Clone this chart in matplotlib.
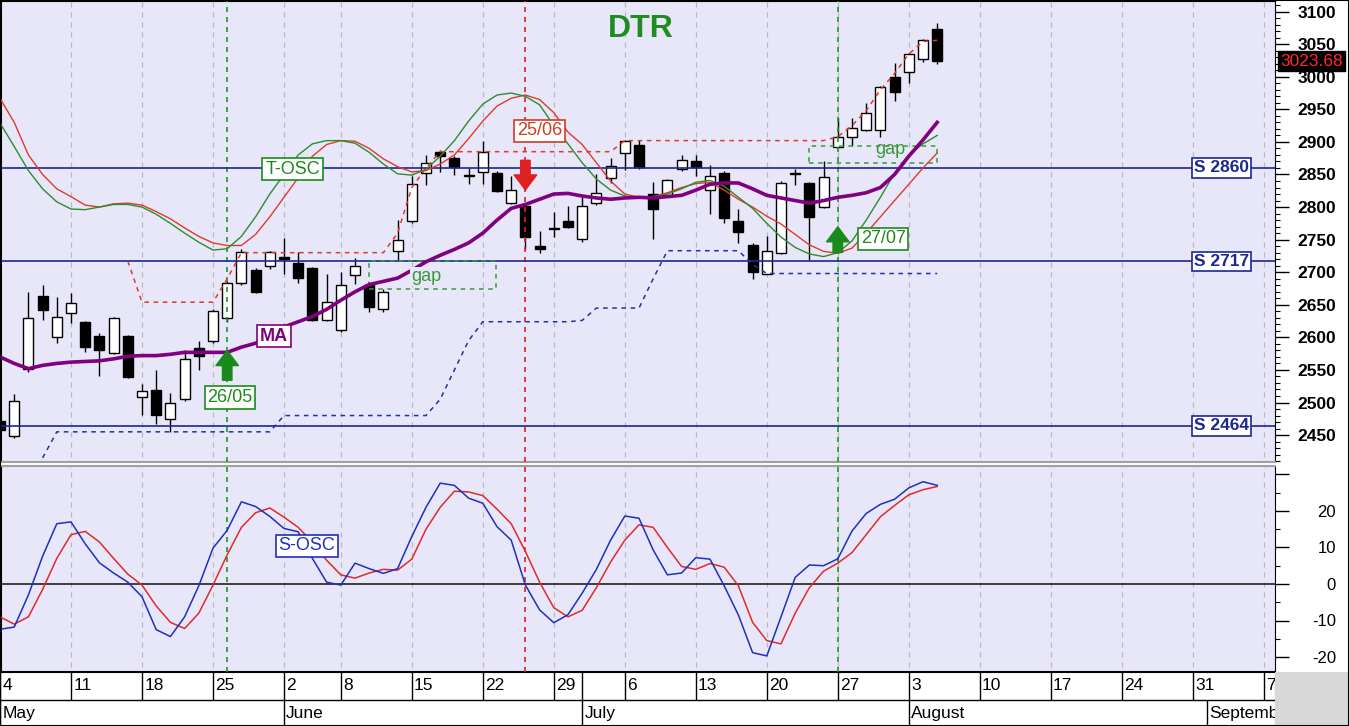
import numpy as np
import matplotlib.pyplot as plt
from matplotlib.patches import Rectangle
from matplotlib.ticker import MultipleLocator, FixedLocator

plt.rcParams['font.family'] = ['Liberation Sans', 'DejaVu Sans']

# daily candles, trading days from 4 May (index 0)
opens = [2472, 2448, 2551, 2663, 2601, 2638, 2623, 2602, 2576, 2602,
         2509, 2519, 2475, 2505, 2583, 2595, 2629, 2683, 2703, 2710,
         2724, 2714, 2706, 2627, 2611, 2696, 2680, 2643, 2732, 2778,
         2852, 2884, 2876, 2849, 2854, 2853, 2807, 2802, 2741, 2768,
         2778, 2751, 2807, 2844, 2883, 2895, 2820, 2819, 2858, 2871,
         2826, 2853, 2779, 2742, 2698, 2730, 2853, 2837, 2800, 2892,
         2908, 2919, 2918, 3000, 3008, 3028, 3074]
closes = [2458, 2503, 2629, 2642, 2632, 2652, 2585, 2581, 2629, 2539,
          2518, 2481, 2500, 2567, 2571, 2641, 2684, 2731, 2670, 2731,
          2721, 2691, 2627, 2655, 2680, 2710, 2647, 2669, 2750, 2835,
          2867, 2878, 2861, 2847, 2885, 2825, 2826, 2754, 2735, 2766,
          2770, 2802, 2822, 2863, 2901, 2861, 2797, 2841, 2872, 2861,
          2848, 2783, 2762, 2701, 2733, 2837, 2851, 2785, 2846, 2908,
          2922, 2945, 2984, 2977, 3035, 3056, 3023.68]
highs = [2478, 2513, 2669, 2680, 2662, 2668, 2625, 2607, 2631, 2604,
         2528, 2550, 2515, 2580, 2595, 2643, 2686, 2735, 2707, 2733,
         2752, 2731, 2708, 2698, 2701, 2722, 2685, 2675, 2780, 2847,
         2880, 2887, 2879, 2860, 2902, 2855, 2847, 2805, 2764, 2793,
         2802, 2815, 2851, 2876, 2903, 2903, 2839, 2843, 2880, 2880,
         2865, 2855, 2797, 2745, 2755, 2840, 2858, 2839, 2870, 2936,
         2936, 2959, 2986, 3021, 3037, 3058, 3083]
lows = [2450, 2446, 2547, 2627, 2592, 2622, 2578, 2541, 2574, 2537,
        2481, 2467, 2455, 2503, 2550, 2592, 2624, 2681, 2668, 2705,
        2698, 2684, 2625, 2625, 2609, 2682, 2639, 2639, 2719, 2776,
        2834, 2854, 2849, 2836, 2836, 2823, 2805, 2735, 2730, 2754,
        2768, 2747, 2803, 2837, 2857, 2858, 2751, 2816, 2856, 2847,
        2789, 2775, 2745, 2689, 2697, 2728, 2834, 2718, 2798, 2890,
        2894, 2917, 2908, 2963, 2990, 3023, 3020]

ma = [2570, 2560, 2552, 2557, 2560, 2562, 2563, 2564, 2567, 2571,
      2572, 2572, 2574, 2577, 2577, 2577, 2577, 2585, 2591, 2603,
      2616, 2624, 2632, 2643, 2657, 2670, 2681, 2686, 2691, 2703,
      2716, 2726, 2735, 2745, 2760, 2780, 2798, 2804, 2812, 2820,
      2821, 2817, 2814, 2812, 2814, 2815, 2814, 2816, 2818, 2826,
      2835, 2837, 2837, 2828, 2818, 2814, 2810, 2806, 2810, 2815,
      2818, 2822, 2830, 2850, 2878, 2903, 2930]

tosc_fast = [2929, 2893, 2856, 2828, 2808, 2797, 2796, 2800, 2804, 2804,
             2800, 2789, 2775, 2760, 2746, 2734, 2736, 2755, 2785, 2820,
             2850, 2880, 2897, 2902, 2902, 2898, 2884, 2866, 2851, 2849,
             2858, 2878, 2902, 2932, 2958, 2972, 2975, 2970, 2957, 2925,
             2897, 2868, 2843, 2826, 2817, 2815, 2816, 2820, 2828, 2838,
             2841, 2832, 2815, 2798, 2775, 2754, 2738, 2728, 2724, 2730,
             2748, 2780, 2815, 2852, 2880, 2897, 2910]
tosc_slow = [2967, 2930, 2880, 2850, 2828, 2816, 2803, 2800, 2805, 2806,
             2803, 2793, 2782, 2768, 2755, 2745, 2741, 2741, 2758, 2785,
             2815, 2845, 2878, 2896, 2902, 2901, 2890, 2874, 2862, 2854,
             2856, 2866, 2880, 2905, 2932, 2955, 2967, 2972, 2965, 2945,
             2915, 2896, 2868, 2840, 2820, 2815, 2816, 2822, 2830, 2836,
             2838, 2826, 2812, 2800, 2786, 2774, 2758, 2742, 2732, 2729,
             2737, 2760, 2785, 2810, 2835, 2860, 2883]

N = None
stop_hi = [N, N, N, N, N, N, N, N, N, 2717,
           2654, 2654, 2654, 2654, 2654, 2654, 2690, 2730, 2730, 2730,
           2730, 2730, 2730, 2730, 2730, 2730, 2730, 2730, 2760, 2830,
           2860, 2885, 2885, 2885, 2885, 2885, 2885, 2885, 2885, 2885,
           2885, 2885, 2885, 2885, 2902, 2902, 2902, 2902, 2902, 2902,
           2902, 2902, 2902, 2902, 2902, 2902, 2902, 2902, 2902, 2908,
           2925, 2948, 2980, 3005, 3035, 3054, 3056]
stop_lo = [N, N, N, 2415, 2455, 2455, 2455, 2455, 2455, 2455,
           2455, 2455, 2455, 2455, 2455, 2455, 2455, 2455, 2455, 2455,
           2480, 2480, 2480, 2480, 2480, 2480, 2480, 2480, 2480, 2480,
           2480, 2505, 2550, 2595, 2624, 2624, 2624, 2624, 2624, 2624,
           2624, 2626, 2645, 2645, 2645, 2645, 2690, 2733, 2733, 2733,
           2733, 2733, 2733, 2712, 2698, 2698, 2698, 2698, 2698, 2698,
           2698, 2698, 2698, 2698, 2698, 2698, 2698]

sosc = [-12.4, -11.8, -3.0, 7.6, 16.5, 17.0, 11.0, 5.8, 3.0, 0.5,
        -3.5, -12.5, -14.4, -9.0, -0.5, 9.8, 14.7, 22.5, 21.2, 18.5,
        15.2, 14.3, 7.0, 0.5, -0.3, 5.7, 4.2, 2.9, 4.2, 13.0,
        21.0, 27.6, 27.0, 23.5, 22.1, 15.7, 12.0, -0.3, -7.1, -10.6,
        -8.4, -2.5, 4.0, 12.0, 18.6, 18.0, 9.3, 2.5, 3.0, 7.2,
        6.8, -0.5, -8.5, -18.8, -19.7, -9.0, 1.8, 5.2, 5.0, 6.9,
        14.5, 19.3, 21.8, 23.2, 26.3, 28.0, 27.0]
sosc_sig = [-9.0, -11.0, -9.0, -1.5, 7.0, 13.5, 14.4, 11.5, 7.0, 2.7,
            -0.3, -6.0, -10.5, -12.2, -8.0, -0.3, 8.0, 15.5, 19.5, 20.8,
            18.3, 15.5, 11.5, 6.5, 2.5, 1.6, 3.0, 4.0, 3.8, 6.8,
            15.0, 21.0, 25.4, 25.2, 24.2, 20.5, 16.5, 8.9, 0.5, -6.5,
            -9.0, -7.2, -1.0, 6.0, 12.0, 16.2, 15.5, 10.0, 4.8, 4.0,
            5.6, 4.6, -0.5, -10.5, -15.5, -16.4, -8.0, -1.0, 3.5, 5.7,
            8.6, 13.5, 18.4, 21.5, 24.4, 25.8, 26.7]

supports = [2860, 2717, 2464]
gaps = [(26, 34.9, 2674, 2717), (57, 66, 2868, 2894)]  # day from, day to, low, high
signal_days = [16, 37, 59]
signal_text = ['26/05', '25/06', '27/07']

week_days = [0, 5, 10, 15, 20, 24, 29, 34, 39, 44, 49, 54, 59, 64, 69, 74, 79, 84, 89]
week_labels = ['4', '11', '18', '25', '2', '8', '15', '22', '29', '6', '13', '20',
               '27', '3', '10', '17', '24', '31', '7']
month_days = [0, 20, 41, 64, 85]
month_labels = ['May', 'June', 'July', 'August', 'September']

W, H = 1349, 726
fig = plt.figure(figsize=(W / 100, H / 100), dpi=100)
fig.patch.set_facecolor('white')

pr = 1275  # right edge of plotting area, px
ax = fig.add_axes([1 / W, 1 - 462 / H, (pr - 1) / W, 461 / H])
ax2 = fig.add_axes([1 / W, 1 - 672 / H, (pr - 1) / W, 206 / H])
axd = fig.add_axes([0, 0, pr / W, 54 / H])

bg = '#e7e7f9'
x0, x1 = 0.07, 89.79
x = np.arange(len(closes))

for a in (ax, ax2):
    a.set_facecolor(bg)
    a.set_xlim(x0, x1)
    a.set_xticks([])
    a.vlines(week_days[1:], -1e4, 1e4, color='#b8b8b8', lw=0.9,
             linestyles=(0, (4, 4)), zorder=0.5)
    for d, c in zip(signal_days, ['#1a9a1a', '#e02020', '#1a9a1a']):
        a.axvline(d, color=c, lw=1.2, ls=(0, (3, 3)), zorder=4)
    a.yaxis.tick_right()
    for s in ('left', 'top', 'right'):
        a.spines[s].set_color('black')
    a.spines['bottom'].set_color('#a0a0a0')
    a.spines['bottom'].set_linewidth(1.5)

ax.set_ylim(2408.7, 3116.3)
ax2.set_ylim(-24.1, 32.3)
ax2.spines['top'].set_color('#a0a0a0')
ax2.spines['top'].set_linewidth(1.5)
ax2.spines['bottom'].set_color('black')

# candles
o = np.array(opens)
c = np.array(closes)
ax.vlines(x, lows, highs, color='black', lw=1, zorder=2)
bottom = np.minimum(o, c)
height = np.maximum(np.abs(c - o), 1.5)
fill = np.where(c >= o, 'white', 'black')
ax.bar(x, height, bottom=bottom, width=0.7, color=fill, edgecolor='black',
       lw=1, zorder=3)

# support lines
navy = '#1c2890'
for s in supports:
    ax.axhline(s, color=navy, lw=1.2, zorder=4)
    ax.text(86, s, 'S %d' % s, color=navy, fontsize=12.5, fontweight='bold',
            ha='center', va='center', zorder=7,
            bbox=dict(boxstyle='square,pad=0.12', fc='white', ec=navy, lw=1.2))

# trend oscillator and MA
ax.plot(x, tosc_slow, color='#e03a2a', lw=1, zorder=4)
ax.plot(x, tosc_fast, color='#2c8c2c', lw=1, zorder=4)

hi = np.array([np.nan if v is None else v for v in stop_hi], float)
lo = np.array([np.nan if v is None else v for v in stop_lo], float)
ax.plot(x, hi, color='#e03a2a', lw=1.1, ls=(0, (3, 3)), zorder=4)
ax.plot(x, lo, color='#2030a8', lw=1.1, ls=(0, (3, 3)), zorder=4)

for g0, g1, gl, gh in gaps:
    ax.add_patch(Rectangle((g0, gl), g1 - g0, gh - gl, fill=False,
                           ec='#3a9a3a', lw=1.1, ls=(0, (3, 3)), zorder=4))

ax.plot(x, ma, color='#800080', lw=2.6, zorder=5)

ax.text(30.0, 2694, 'gap', color='#3a9a3a', fontsize=13, ha='center',
        va='center', zorder=6,
        bbox=dict(boxstyle='square,pad=0.05', fc=bg, ec='none'))
ax.text(62.7, 2888, 'gap', color='#3a9a3a', fontsize=13, ha='center',
        va='center', zorder=6)

# signals
green = '#1a8a1a'
red = '#e02020'
akw = dict(arrowstyle='simple,head_width=0.9,head_length=0.6,tail_width=0.38',
           mutation_scale=18)
ax.annotate('', xy=(signal_days[0], 2584), xytext=(signal_days[0], 2530),
            arrowprops=dict(color=green, **akw), zorder=6)
ax.annotate('', xy=(signal_days[1], 2822), xytext=(signal_days[1], 2876),
            arrowprops=dict(color=red, **akw), zorder=6)
ax.annotate('', xy=(signal_days[2], 2774), xytext=(signal_days[2], 2726),
            arrowprops=dict(color=green, **akw), zorder=6)

lab = dict(fontsize=13, ha='center', va='center', zorder=7)
ax.text(16.2, 2508, signal_text[0], color=green,
        bbox=dict(boxstyle='square,pad=0.15', fc='white', ec=green, lw=1.2), **lab)
ax.text(38.0, 2917, signal_text[1], color='#d23a20',
        bbox=dict(boxstyle='square,pad=0.15', fc='white', ec='#d23a20', lw=1.2), **lab)
ax.text(62.2, 2751, signal_text[2], color=green,
        bbox=dict(boxstyle='square,pad=0.15', fc='white', ec=green, lw=1.2), **lab)
ax.text(20.6, 2858, 'T-OSC', color=green,
        bbox=dict(boxstyle='square,pad=0.15', fc='white', ec=green, lw=1.2), **lab)
ax.text(19.3, 2602, 'MA', color='#800080', fontweight='bold',
        bbox=dict(boxstyle='square,pad=0.15', fc='white', ec='#800080', lw=1.2), **lab)

ax.text(45.1, 3073, 'DTR', color='#1e8c1e', fontsize=23, fontweight='bold',
        ha='center', va='center', zorder=7)

# price axis
ax.yaxis.set_major_locator(FixedLocator(range(2450, 3101, 50)))
ax.yaxis.set_minor_locator(MultipleLocator(10))
ax.tick_params(axis='y', which='major', length=10, width=1, pad=6,
               labelsize=12.5, direction='out')
ax.tick_params(axis='y', which='minor', length=3.6, width=0.8, direction='out')
for t in ax.get_yticklabels():
    t.set_fontweight('bold')

# S-OSC panel
ax2.axhline(0, color='#202020', lw=1.2, zorder=2)
ax2.plot(x, sosc_sig, color='#e02a2a', lw=1.1, zorder=4)
ax2.plot(x, sosc, color='#1f2fbf', lw=1.1, zorder=4)
ax2.text(21.6, 10.4, 'S-OSC', color='#1f2fbf', fontsize=13, ha='center',
         va='center', zorder=7,
         bbox=dict(boxstyle='square,pad=0.15', fc='white', ec='#1f2fbf', lw=1.2))
ax2.yaxis.set_major_locator(FixedLocator([-20, -10, 0, 10, 20, 30]))
ax2.yaxis.set_minor_locator(MultipleLocator(5))
ax2.set_yticklabels(['-20', '-10', '0', '10', '20', ''])
ax2.tick_params(axis='y', which='major', length=10, width=1, pad=34,
                labelsize=12, direction='out')
ax2.tick_params(axis='y', which='minor', length=3.6, width=0.8, direction='out')
for t in ax2.get_yticklabels():
    t.set_ha('right')

# date strip
axd.set_xlim(0, x1)
axd.set_ylim(0, 54)
axd.set_facecolor('white')
axd.set_xticks([])
axd.set_yticks([])
for s in axd.spines.values():
    s.set_color('black')
axd.axhline(26, color='black', lw=1)
axd.vlines(week_days + [41], 26, 54, color='black', lw=1)
axd.vlines(month_days, 0, 26, color='black', lw=1)
for d, t in zip(week_days, week_labels):
    axd.text(d + 0.15, 40, t, fontsize=12.5, ha='left', va='center', clip_on=True)
for d, t in zip(month_days, month_labels):
    axd.text(d + 0.15, 12.5, t, fontsize=12.5, ha='left', va='center', clip_on=True)

fig.patches.append(Rectangle((pr / W, 0), 1 - pr / W, 54 / H, transform=fig.transFigure,
                             fc='#d8d8d8', ec='none', zorder=0))

fig.text(1280 / W, 1 - 61 / H, '%.2f' % closes[-1], color='#ff2a2a', fontsize=12.5,
         ha='left', va='center',
         bbox=dict(boxstyle='square,pad=0.12', fc='black', ec='black'))

fig.patches.append(Rectangle((0, 0), 1, 1, transform=fig.transFigure, fill=False,
                             ec='black', lw=1.5, zorder=10))

fig.savefig('out.png', dpi=100)
